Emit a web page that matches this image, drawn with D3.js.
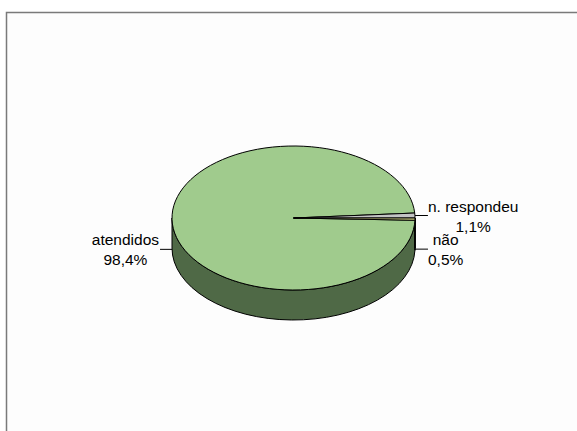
<!DOCTYPE html>
<html>
<head>
<meta charset="utf-8">
<script src="https://cdn.jsdelivr.net/npm/d3@7"></script>
<style>
  html, body { margin: 0; padding: 0; background: #ffffff; }
  svg { display: block; }
  text { font-family: "Liberation Sans", Arial, sans-serif; font-size: 15.5px; fill: #000; }
</style>
</head>
<body>
<script>
// Categories and their shares (%)
const categories = ["atendidos", "n. respondeu", "não"];
const values = [98.4, 1.1, 0.5];
const valueLabels = ["98,4%", "1,1%", "0,5%"];
const topColors = ["#a0cb8d", "#c4c4c4", "#d9d98a"];
const sideColors = ["#4f6946", "#6e6e6e", "#8a8a48"];

const W = 577, H = 431;
const cx = 293.5, cy = 218, rx = 121.5, ry = 72, depth = 30;

const svg = d3.select("body").append("svg").attr("width", W).attr("height", H);

// Chart frame
svg.append("rect").attr("x", 0).attr("y", 0).attr("width", W).attr("height", H).attr("fill", "#ffffff");
svg.append("rect").attr("x", 6.5).attr("y", 12.5).attr("width", W).attr("height", H)
  .attr("fill", "#fdfdfd").attr("stroke", "#7a7a7a").attr("stroke-width", 1.5);

// Rotate so the small slices sit at three o'clock
const total = d3.sum(values);
const start = Math.PI / 2 + (values[2] / total) * 2 * Math.PI;
const pie = d3.pie().sort(null).value(d => d).startAngle(start).endAngle(start + 2 * Math.PI);
const arcs = pie(values).map((a, i) => ({ ...a, i }));

const pt = (a, dy = 0) => [cx + rx * Math.sin(a), cy - ry * Math.cos(a) + dy];

// Side walls (only the front half, angles between 90° and 270°, is visible)
const sides = svg.append("g");
arcs.forEach(a => {
  [[Math.PI / 2, 3 * Math.PI / 2], [Math.PI / 2 + 2 * Math.PI, 3 * Math.PI / 2 + 2 * Math.PI]].forEach(([lo, hi]) => {
    const b0 = Math.max(a.startAngle, lo), b1 = Math.min(a.endAngle, hi);
    if (b1 <= b0) return;
    const p0 = pt(b0), p1 = pt(b1), q1 = pt(b1, depth), q0 = pt(b0, depth);
    const d = `M${p0}A${rx},${ry} 0 0 1 ${p1}L${q1}A${rx},${ry} 0 0 0 ${q0}Z`;
    sides.append("path").attr("d", d).attr("fill", sideColors[a.i])
      .attr("stroke", "#000").attr("stroke-width", 1).attr("stroke-linejoin", "round");
  });
});

// Top face
const tops = svg.append("g");
arcs.forEach(a => {
  const p0 = pt(a.startAngle), p1 = pt(a.endAngle);
  const large = (a.endAngle - a.startAngle) > Math.PI ? 1 : 0;
  const d = `M${cx},${cy}L${p0}A${rx},${ry} 0 ${large} 1 ${p1}Z`;
  tops.append("path").attr("d", d).attr("fill", topColors[a.i])
    .attr("stroke", "#000").attr("stroke-width", 1).attr("stroke-linejoin", "round");
});

// Labels with leader lines
const labels = svg.append("g");
arcs.forEach(a => {
  const mid = (a.startAngle + a.endAngle) / 2;
  const below = Math.cos(mid) < 0;
  const [x0, y0] = pt(mid, below ? depth : 0);
  const right = Math.sin(mid) > 0;
  const x1 = x0 + (right ? 13 : -12);
  labels.append("line").attr("x1", x0).attr("y1", y0).attr("x2", x1).attr("y2", y0)
    .attr("stroke", "#000").attr("stroke-width", 1);
  const t = labels.append("text").attr("text-anchor", "middle");
  const l1 = t.append("tspan").attr("y", y0 - 4).text(categories[a.i]);
  const l2 = t.append("tspan").attr("y", y0 + 16).text(valueLabels[a.i]);
  const wMax = Math.max(l1.node().getComputedTextLength(), l2.node().getComputedTextLength());
  const xc = right ? x1 + wMax / 2 : x1 - wMax / 2 - 1;
  l1.attr("x", xc);
  l2.attr("x", xc);
});
</script>
</body>
</html>
